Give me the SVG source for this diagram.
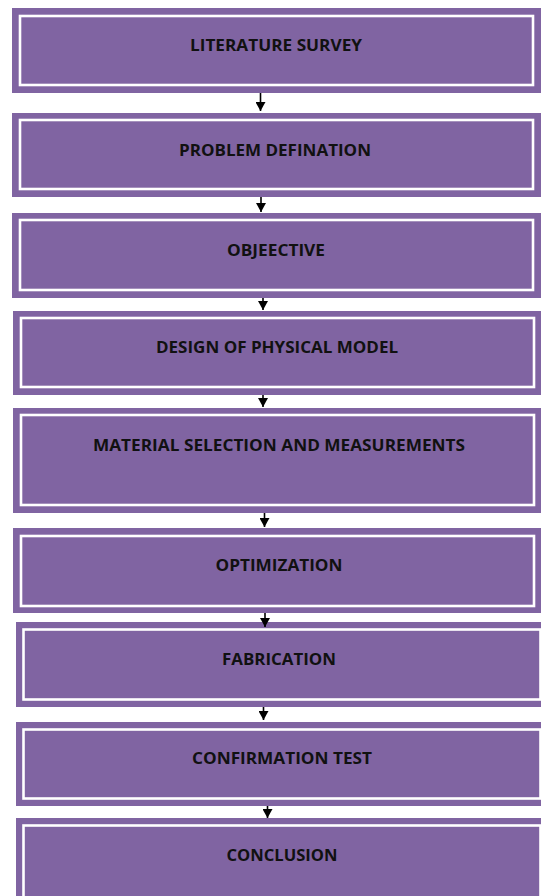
<svg xmlns="http://www.w3.org/2000/svg" width="541" height="896" viewBox="0 0 541 896">
<defs>
<style>
.o{fill:#8064A2;}
.i{fill:none;stroke:#FFFFFF;stroke-width:2.6;}
.t{font-family:"Open Sans",Lato,"Liberation Sans",sans-serif;font-weight:bold;font-size:16px;fill:#111111;text-anchor:middle;}
.c{stroke:#000000;stroke-width:1.6;fill:none;}
</style>
<marker id="ah" markerWidth="9" markerHeight="10" refX="9" refY="5" orient="auto" markerUnits="userSpaceOnUse" viewBox="0 0 9 10">
<path d="M0,0 L9,5 L0,10 Z" fill="#000000"/>
</marker>
</defs>
<rect width="541" height="896" fill="#FFFFFF"/>
<g id="n1"><rect class="o" x="12" y="8" width="529" height="85"/><rect class="i" x="20" y="16" width="513" height="69"/><text class="t" x="276" y="51" textLength="172" lengthAdjust="spacingAndGlyphs">LITERATURE SURVEY</text></g>
<g id="n2"><rect class="o" x="12" y="113" width="529" height="84"/><rect class="i" x="20" y="120" width="513" height="69"/><text class="t" x="275" y="156" textLength="192" lengthAdjust="spacingAndGlyphs">PROBLEM DEFINATION</text></g>
<g id="n3"><rect class="o" x="12" y="213" width="529" height="85"/><rect class="i" x="20" y="220" width="513" height="70"/><text class="t" x="276" y="256" textLength="98" lengthAdjust="spacingAndGlyphs">OBJEECTIVE</text></g>
<g id="n4"><rect class="o" x="13" y="311" width="528" height="84"/><rect class="i" x="21" y="318" width="513" height="69"/><text class="t" x="277" y="353" textLength="242" lengthAdjust="spacingAndGlyphs">DESIGN OF PHYSICAL MODEL</text></g>
<g id="n5"><rect class="o" x="13" y="408" width="528" height="105"/><rect class="i" x="21" y="415" width="513" height="90"/><text class="t" x="279" y="451" textLength="372" lengthAdjust="spacingAndGlyphs">MATERIAL SELECTION AND MEASUREMENTS</text></g>
<g id="n6"><rect class="o" x="13" y="528" width="528" height="85"/><rect class="i" x="21" y="536" width="513" height="70"/><text class="t" x="279" y="571" textLength="127" lengthAdjust="spacingAndGlyphs">OPTIMIZATION</text></g>
<g id="n7"><rect class="o" x="16" y="622" width="532" height="85"/><rect class="i" x="23.5" y="629.5" width="517" height="70"/><text class="t" x="279" y="665" textLength="114" lengthAdjust="spacingAndGlyphs">FABRICATION</text></g>
<g id="n8"><rect class="o" x="16" y="722" width="532" height="84"/><rect class="i" x="23.5" y="729.5" width="517" height="69"/><text class="t" x="282" y="764" textLength="180" lengthAdjust="spacingAndGlyphs">CONFIRMATION TEST</text></g>
<g id="n9"><rect class="o" x="16" y="818" width="532" height="90"/><rect class="i" x="23.5" y="825.5" width="517" height="80"/><text class="t" x="282" y="861" textLength="111" lengthAdjust="spacingAndGlyphs">CONCLUSION</text></g>
<g id="connectors">
<line class="c" x1="260.5" y1="93" x2="260.5" y2="111" marker-end="url(#ah)"/>
<line class="c" x1="261" y1="197" x2="261" y2="212" marker-end="url(#ah)"/>
<line class="c" x1="263" y1="298" x2="263" y2="310" marker-end="url(#ah)"/>
<line class="c" x1="263" y1="395" x2="263" y2="407" marker-end="url(#ah)"/>
<line class="c" x1="264.5" y1="513" x2="264.5" y2="527" marker-end="url(#ah)"/>
<line class="c" x1="265" y1="613" x2="265" y2="627" marker-end="url(#ah)"/>
<line class="c" x1="263.5" y1="707" x2="263.5" y2="720" marker-end="url(#ah)"/>
<line class="c" x1="267.5" y1="806" x2="267.5" y2="818" marker-end="url(#ah)"/>
</g>
</svg>
